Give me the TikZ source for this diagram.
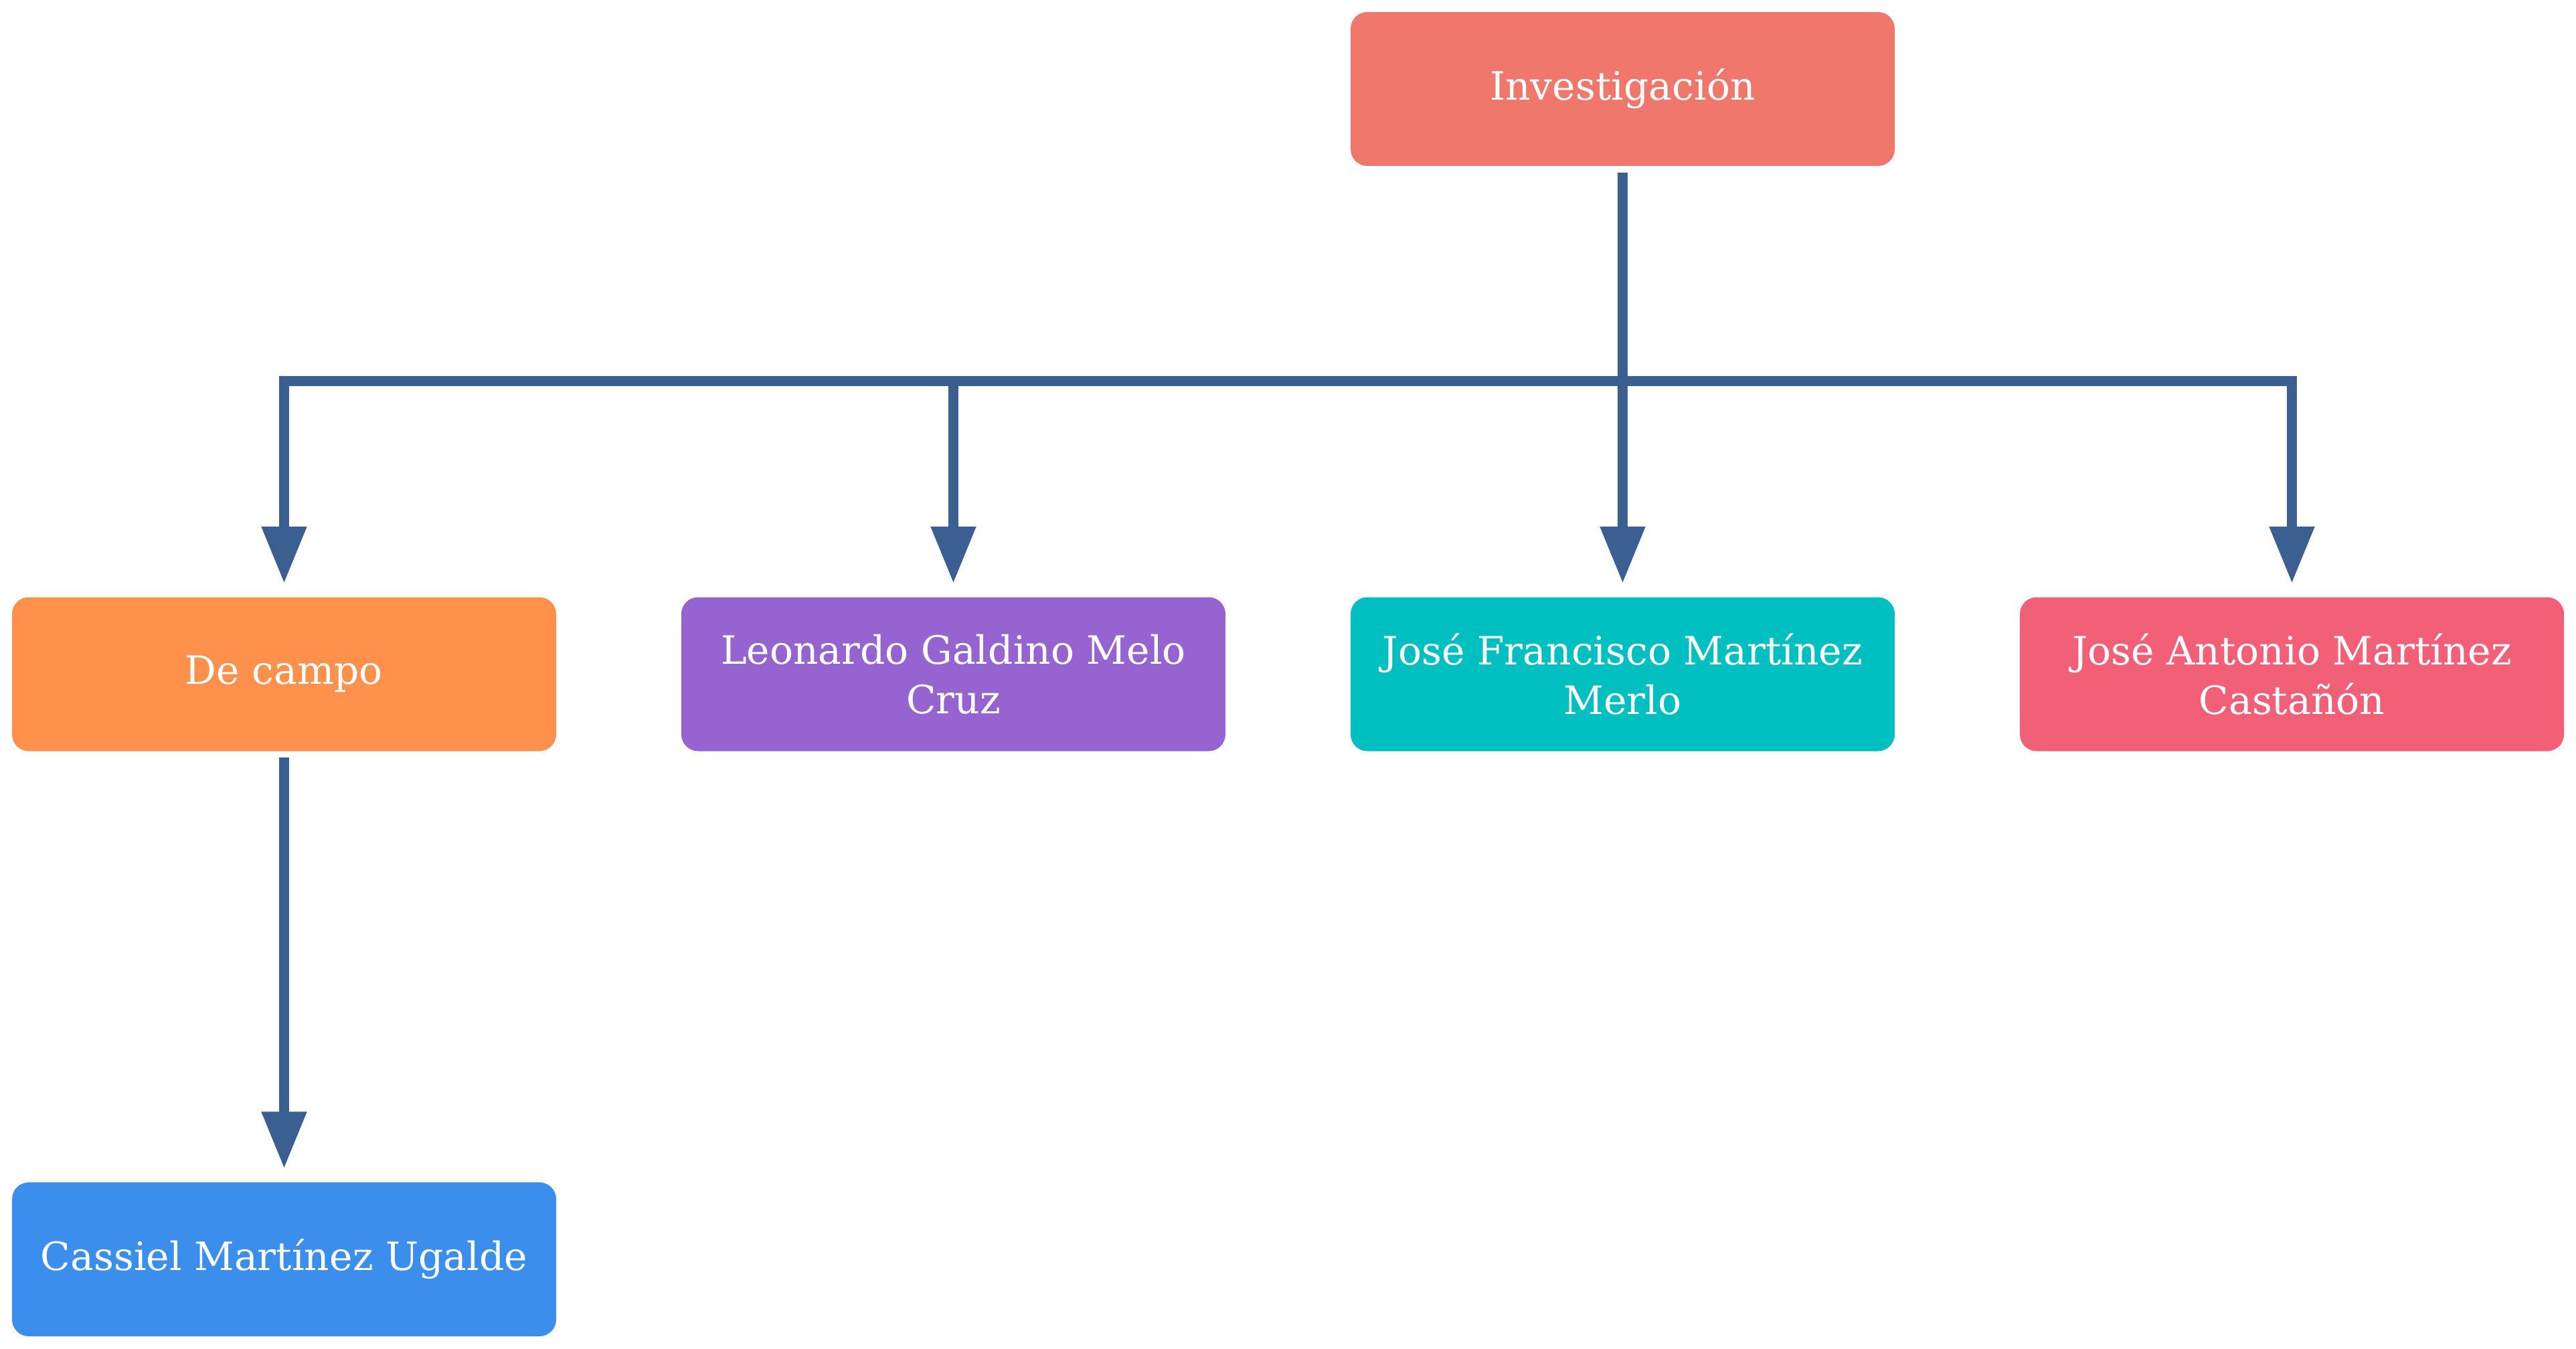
\documentclass[tikz,border=0pt]{standalone}
\usepackage{fontspec}
\setmainfont{DejaVu Serif}
\usetikzlibrary{arrows.meta}
\definecolor{cinv}{HTML}{EF776C}
\definecolor{ccampo}{HTML}{FF914D}
\definecolor{cleo}{HTML}{9664D0}
\definecolor{cjf}{HTML}{00BFC0}
\definecolor{cja}{HTML}{F16077}
\definecolor{ccas}{HTML}{3B8EEB}
\definecolor{cline}{HTML}{3A5F90}
\tikzset{
  box/.style={rounded corners=0.25cm, minimum width=8.13cm, minimum height=2.30cm,
    align=center, text=white, inner sep=0pt,
    font=\fontsize{16.6}{21}\selectfont},
  conn/.style={draw=cline, line width=0.15cm, line join=miter,
    -{Triangle[width=0.64cm,length=0.85cm]}, shorten <=0.09cm, shorten >=0.2cm}
}
\begin{document}
\begin{tikzpicture}
\useasboundingbox (0,0) rectangle (38.49,-20.16);
\node[box, fill=cinv] (inv) at (24.245,-1.33) {Investigación};
\node[box, fill=ccampo] (campo) at (4.245,-10.075) {De campo};
\node[box, fill=cleo] (leo) at (14.245,-10.075) {Leonardo Galdino Melo\\Cruz};
\node[box, fill=cjf] (jf) at (24.245,-10.075) {José Francisco Martínez\\Merlo};
\node[box, fill=cja] (ja) at (34.245,-10.075) {José Antonio Martínez\\Castañón};
\node[box, fill=ccas] (cas) at (4.245,-18.82) {Cassiel Martínez Ugalde};
\coordinate (bus) at (24.245,-5.70);
\draw[conn] (inv.south) -- (inv.south |- bus) -| (campo.north);
\draw[conn] (inv.south) -- (inv.south |- bus) -| (leo.north);
\draw[conn] (inv.south) -- (inv.south |- bus) -| (jf.north);
\draw[conn] (inv.south) -- (inv.south |- bus) -| (ja.north);
\draw[conn] (campo.south) -- (cas.north);
\end{tikzpicture}
\end{document}
